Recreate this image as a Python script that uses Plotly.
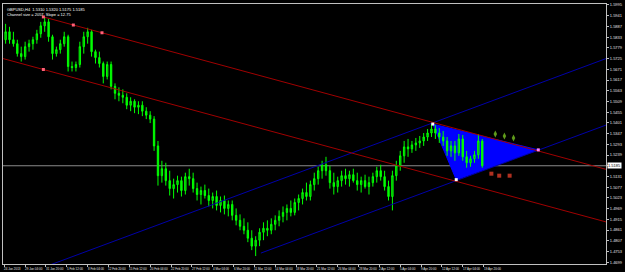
import plotly.graph_objects as go

# ---- price data (12-hour candles, 3 x H4 bars each) ----
OPEN = [1.5820,1.5860,1.5820,1.5800,1.5750,1.5735,1.5785,1.5800,1.5820,1.5850,
        1.5890,1.5910,1.5835,1.5750,1.5770,1.5800,1.5835,1.5685,1.5680,1.5695,
        1.5785,1.5835,1.5860,1.5760,1.5730,1.5700,1.5635,1.5695,1.5585,1.5550,
        1.5540,1.5530,1.5490,1.5510,1.5480,1.5490,1.5460,1.5440,1.5420,1.5285,
        1.5135,1.5170,1.5110,1.5070,1.5090,1.5110,1.5060,1.5130,1.5120,1.5070,
        1.5040,1.5060,1.5035,1.5010,1.5030,1.4985,1.5010,1.4970,1.4990,1.4935,
        1.4910,1.4880,1.4860,1.4820,1.4780,1.4810,1.4850,1.4870,1.4860,1.4890,
        1.4910,1.4930,1.4950,1.4970,1.4950,1.5000,1.5020,1.5050,1.5030,1.5090,
        1.5120,1.5160,1.5190,1.5160,1.5100,1.5080,1.5110,1.5135,1.5120,1.5140,
        1.5110,1.5090,1.5110,1.5080,1.5100,1.5130,1.5160,1.5130,1.5080,1.5030,
        1.5135,1.5185,1.5235,1.5280,1.5270,1.5290,1.5300,1.5310,1.5330,1.5350,
        1.5370,1.5350,1.5330,1.5310,1.5260,1.5285,1.5250,1.5320,1.5230,1.5200,
        1.5220,1.5240,1.5310]
HIGH = [1.5900,1.5885,1.5860,1.5820,1.5785,1.5810,1.5820,1.5835,1.5870,1.5910,
        1.5935,1.5925,1.5845,1.5785,1.5820,1.5860,1.5845,1.5710,1.5710,1.5810,
        1.5860,1.5880,1.5870,1.5770,1.5760,1.5710,1.5710,1.5710,1.5600,1.5580,
        1.5570,1.5550,1.5530,1.5520,1.5510,1.5510,1.5480,1.5460,1.5435,1.5310,
        1.5210,1.5200,1.5160,1.5120,1.5135,1.5130,1.5150,1.5170,1.5150,1.5100,
        1.5080,1.5090,1.5070,1.5050,1.5060,1.5030,1.5035,1.5010,1.5010,1.4970,
        1.4940,1.4920,1.4900,1.4860,1.4830,1.4870,1.4900,1.4910,1.4920,1.4935,
        1.4960,1.4980,1.4990,1.5010,1.5020,1.5040,1.5070,1.5100,1.5110,1.5150,
        1.5180,1.5210,1.5230,1.5185,1.5150,1.5130,1.5160,1.5170,1.5160,1.5170,
        1.5150,1.5130,1.5140,1.5130,1.5150,1.5180,1.5190,1.5160,1.5110,1.5160,
        1.5210,1.5260,1.5310,1.5320,1.5310,1.5325,1.5335,1.5350,1.5370,1.5395,
        1.5390,1.5375,1.5360,1.5330,1.5310,1.5310,1.5345,1.5340,1.5260,1.5235,
        1.5260,1.5345,1.5320]
LOW = [1.5800,1.5800,1.5785,1.5735,1.5710,1.5720,1.5760,1.5770,1.5800,1.5830,
       1.5860,1.5810,1.5720,1.5735,1.5750,1.5785,1.5660,1.5660,1.5660,1.5680,
       1.5750,1.5800,1.5735,1.5700,1.5680,1.5600,1.5620,1.5570,1.5520,1.5510,
       1.5500,1.5470,1.5460,1.5450,1.5445,1.5435,1.5420,1.5400,1.5260,1.5085,
       1.5100,1.5085,1.5035,1.5020,1.5050,1.5030,1.5040,1.5085,1.5050,1.5010,
       1.4990,1.5020,1.4980,1.4970,1.4960,1.4950,1.4940,1.4930,1.4910,1.4885,
       1.4860,1.4840,1.4800,1.4760,1.4730,1.4780,1.4810,1.4830,1.4840,1.4860,
       1.4880,1.4900,1.4910,1.4930,1.4935,1.4960,1.4990,1.5010,1.5010,1.5060,
       1.5090,1.5120,1.5135,1.5070,1.5040,1.5050,1.5080,1.5090,1.5080,1.5100,
       1.5060,1.5050,1.5070,1.5040,1.5080,1.5100,1.5110,1.5060,1.5010,1.4960,
       1.5110,1.5160,1.5200,1.5230,1.5250,1.5260,1.5275,1.5285,1.5310,1.5330,
       1.5320,1.5300,1.5285,1.5235,1.5230,1.5210,1.5235,1.5210,1.5175,1.5180,
       1.5200,1.5220,1.5175]
CLOSE = [1.5860,1.5820,1.5800,1.5750,1.5735,1.5785,1.5800,1.5820,1.5850,1.5890,
         1.5910,1.5835,1.5750,1.5770,1.5800,1.5835,1.5685,1.5680,1.5695,1.5785,
         1.5835,1.5860,1.5760,1.5730,1.5700,1.5635,1.5695,1.5585,1.5550,1.5540,
         1.5530,1.5490,1.5510,1.5480,1.5490,1.5460,1.5440,1.5420,1.5285,1.5135,
         1.5170,1.5110,1.5070,1.5090,1.5110,1.5060,1.5130,1.5120,1.5070,1.5040,
         1.5060,1.5035,1.5010,1.5030,1.4985,1.5010,1.4970,1.4990,1.4935,1.4910,
         1.4880,1.4860,1.4820,1.4780,1.4810,1.4850,1.4870,1.4860,1.4890,1.4910,
         1.4930,1.4950,1.4970,1.4950,1.5000,1.5020,1.5050,1.5030,1.5090,1.5120,
         1.5160,1.5190,1.5160,1.5100,1.5080,1.5110,1.5135,1.5120,1.5140,1.5110,
         1.5090,1.5110,1.5080,1.5100,1.5130,1.5160,1.5130,1.5080,1.5030,1.5135,
         1.5185,1.5235,1.5280,1.5270,1.5290,1.5300,1.5310,1.5330,1.5350,1.5370,
         1.5350,1.5330,1.5310,1.5260,1.5285,1.5250,1.5320,1.5230,1.5200,1.5220,
         1.5240,1.5310,1.5185]
BARS_PER_CANDLE = 3
X = [BARS_PER_CANDLE * i + 1 for i in range(len(CLOSE))]

CURRENT_PRICE = 1.5185

# x tick labels every 16 H4 bars
X_TICK_BARS = [16 * k for k in range(24)]
X_TICK_LABELS = ["24 Jan 2013", "29 Jan 04:00", "31 Jan 20:00", "5 Feb 12:00", "8 Feb 04:00",
                 "12 Feb 20:00", "15 Feb 12:00", "20 Feb 04:00", "22 Feb 20:00", "27 Feb 12:00",
                 "4 Mar 04:00", "6 Mar 20:00", "11 Mar 12:00", "14 Mar 04:00", "18 Mar 20:00",
                 "21 Mar 12:00", "26 Mar 04:00", "28 Mar 20:00", "2 Apr 12:00", "5 Apr 04:00",
                 "9 Apr 20:00", "12 Apr 12:00", "17 Apr 04:00", "19 Apr 20:00"]
Y_TICKS = [1.5995, 1.5941, 1.5887, 1.5833, 1.5779, 1.5725, 1.5671, 1.5617, 1.5563, 1.5509,
           1.5455, 1.5401, 1.5347, 1.5293, 1.5239, 1.5185, 1.5131, 1.5077, 1.5023, 1.4969,
           1.4915, 1.4861, 1.4807, 1.4753, 1.4699]

# drawing objects (bar index, price)
RED_CH_BARS = [30, 75]
RED_CH_PRICES = [1.5935, 1.5855]
RED_CH_MID_BAR = 53
RED_CH_PARALLEL_BAR = 30
RED_CH_PARALLEL_PRICE = 1.5670
BLUE_LOWER_BARS = [197, 462]
BLUE_LOWER_PRICES = [1.4745, 1.5390]
BLUE_UPPER_BARS = [35, 462]
BLUE_UPPER_PRICES = [1.4685, 1.5725]
TRI_BARS = [329, 347, 410]
TRI_PRICES = [1.5395, 1.5115, 1.5265]
GREEN_SIG_BARS = [377, 384, 391]
GREEN_SIG_PRICES = [1.5345, 1.5335, 1.5325]
RED_SIG_BARS = [374, 380, 388]
RED_SIG_PRICES = [1.5145, 1.5135, 1.5135]

X_MIN, X_MAX = -1, 462
Y_MIN, Y_MAX = 1.4690, 1.6000

slope = (RED_CH_PRICES[1] - RED_CH_PRICES[0]) / (RED_CH_BARS[1] - RED_CH_BARS[0])
red_up_x = [RED_CH_BARS[0], X_MAX]
red_up_y = [RED_CH_PRICES[0], RED_CH_PRICES[0] + slope * (X_MAX - RED_CH_BARS[0])]
red_lo_x = [X_MIN, X_MAX]
red_lo_y = [RED_CH_PARALLEL_PRICE + slope * (X_MIN - RED_CH_PARALLEL_BAR),
            RED_CH_PARALLEL_PRICE + slope * (X_MAX - RED_CH_PARALLEL_BAR)]
red_mid_y = RED_CH_PRICES[0] + slope * (RED_CH_MID_BAR - RED_CH_BARS[0])

FONT = "Liberation Sans Narrow, Liberation Sans, Arial"

fig = go.Figure()

# filled triangle drawn beneath the candles
tri_path = "M " + " L ".join("%s,%s" % (b, p) for b, p in zip(TRI_BARS, TRI_PRICES)) + " Z"
fig.add_shape(type="path", path=tri_path, xref="x", yref="y", fillcolor="#0000ff",
              line=dict(color="#0000ff", width=1), layer="below")
fig.add_shape(type="line", xref="paper", x0=0, x1=1, y0=CURRENT_PRICE, y1=CURRENT_PRICE,
              line=dict(color="#8a8a8a", width=1), layer="below")

fig.add_trace(go.Scatter(x=BLUE_LOWER_BARS, y=BLUE_LOWER_PRICES, mode="lines",
                         line=dict(color="#0000a8", width=1)))
fig.add_trace(go.Scatter(x=BLUE_UPPER_BARS, y=BLUE_UPPER_PRICES, mode="lines",
                         line=dict(color="#0000a8", width=1)))
fig.add_trace(go.Scatter(x=red_up_x, y=red_up_y, mode="lines", line=dict(color="#a00000", width=1)))
fig.add_trace(go.Scatter(x=red_lo_x, y=red_lo_y, mode="lines", line=dict(color="#a00000", width=1)))
fig.add_trace(go.Candlestick(x=X, open=OPEN, high=HIGH, low=LOW, close=CLOSE,
                             increasing=dict(line=dict(color="#00ff00", width=1), fillcolor="#009a00"),
                             decreasing=dict(line=dict(color="#00ff00", width=1), fillcolor="#00ff00"),
                             whiskerwidth=0))
fig.add_trace(go.Scatter(x=RED_CH_BARS + [RED_CH_MID_BAR, RED_CH_PARALLEL_BAR],
                         y=RED_CH_PRICES + [red_mid_y, RED_CH_PARALLEL_PRICE], mode="markers",
                         marker=dict(symbol="square", size=3, color="#ff6078")))
fig.add_trace(go.Scatter(x=TRI_BARS, y=TRI_PRICES, mode="markers",
                         marker=dict(symbol="square", size=3, color=["#ffffff", "#ffffff", "#ff80ff"])))
fig.add_trace(go.Scatter(x=GREEN_SIG_BARS, y=GREEN_SIG_PRICES, mode="markers",
                         marker=dict(symbol="diamond-tall", size=5, color="#5f9a1a")))
fig.add_trace(go.Scatter(x=RED_SIG_BARS, y=RED_SIG_PRICES, mode="markers",
                         marker=dict(symbol="square", size=4, color="#b03020")))

for b, lab in zip(X_TICK_BARS, X_TICK_LABELS):
    fig.add_annotation(x=b, y=0, xref="x", yref="paper", text=lab, showarrow=False,
                       xanchor="left", yanchor="top", xshift=-2, yshift=-1,
                       font=dict(family=FONT, size=3, color="#e0e0e0"))

fig.add_annotation(xref="paper", yref="y", x=1, y=CURRENT_PRICE, text="%.4f" % CURRENT_PRICE,
                   showarrow=False, xanchor="left", yanchor="middle", xshift=1,
                   bgcolor="#ffffff", borderpad=0, font=dict(family=FONT, size=4, color="#000000"))

fig.add_annotation(xref="paper", yref="paper", x=0, y=1, xanchor="left", yanchor="top",
                   xshift=2, yshift=-1, showarrow=False, align="left",
                   text="GBPUSD,H4  1.5310 1.5320 1.5175 1.5185<br>Channel size = 2057  Slope = 12.75",
                   font=dict(family=FONT, size=4, color="#ffffff"))

y_text = ["" if abs(v - CURRENT_PRICE) < 1e-9 else "%.4f" % v for v in Y_TICKS]

fig.update_layout(
    width=625, height=272, margin=dict(l=2, r=13, t=2, b=8),
    paper_bgcolor="#000000", plot_bgcolor="#000000", showlegend=False, boxgap=0.5,
    xaxis=dict(range=[X_MIN, X_MAX], rangeslider=dict(visible=False), showgrid=False,
               zeroline=False, tickvals=X_TICK_BARS, ticktext=[""] * len(X_TICK_BARS),
               ticks="outside", ticklen=2, tickcolor="#c0c0c0",
               showline=True, linecolor="#c0c0c0", linewidth=1, mirror=True),
    yaxis=dict(range=[Y_MIN, Y_MAX], side="right", showgrid=False, zeroline=False,
               tickvals=Y_TICKS, ticktext=y_text,
               ticks="outside", ticklen=2, tickcolor="#c0c0c0",
               tickfont=dict(family=FONT, size=4, color="#e0e0e0"),
               showline=True, linecolor="#c0c0c0", linewidth=1, mirror=True),
)
fig.write_html("out.html")
